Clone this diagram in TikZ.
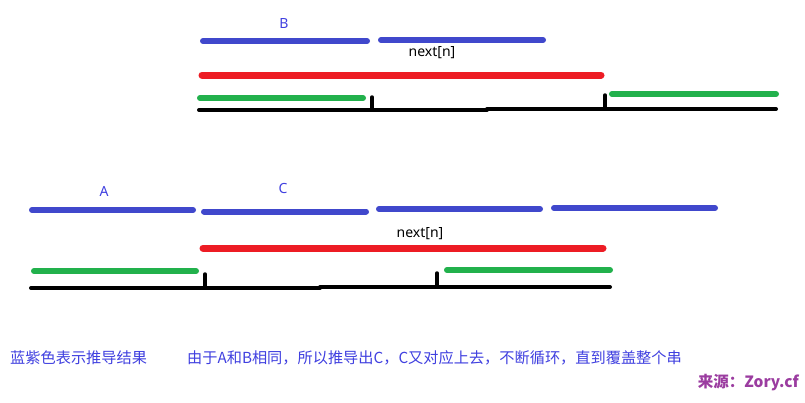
\documentclass[tikz,border=0pt]{standalone}
\usepackage{fontspec}
\setmainfont{Noto Sans CJK SC}
\newfontfamily\latinsans{Noto Sans}
\definecolor{segblue}{RGB}{64,72,204}
\definecolor{segred}{RGB}{237,28,36}
\definecolor{seggreen}{RGB}{34,177,76}
\definecolor{txtblue}{RGB}{64,64,224}
\definecolor{srcpurple}{RGB}{155,60,160}
\tikzset{
  bluebar/.style={segblue,line width=6pt,line cap=round},
  redbar/.style={segred,line width=7pt,line cap=round},
  greenbar/.style={seggreen,line width=6pt,line cap=round},
  baseline/.style={black,line width=4pt,line cap=round},
  tickmark/.style={black,line width=3.5pt,line cap=round},
  seglabel/.style={text=txtblue,font=\latinsans\fontsize{14}{16}\selectfont,inner sep=0pt},
  nextlabel/.style={text=black,font=\latinsans\fontsize{14}{16}\selectfont,inner sep=0pt},
  note/.style={text=txtblue,font=\fontsize{15.2}{18}\selectfont,inner sep=0pt,anchor=west},
}
\begin{document}
\begin{tikzpicture}[x=1pt,y=-1pt]
\useasboundingbox[fill=white] (0,0) rectangle (805,402);
% ---------- top ----------
\node[seglabel] (lblB) at (284,23) {B};
\draw[bluebar] (203,41) -- (367,41);
\draw[bluebar] (381,40) -- (543,40);
\node[nextlabel] (next1) at (432,53) {next[n]};
\draw[redbar] (202,75) -- (601,75);
\draw[greenbar] (200,98) -- (363,98);
\draw[greenbar] (612,94) -- (776,94);
\draw[baseline] (199,110) -- (487,110);
\draw[baseline] (487,109) -- (776,109);
\draw[tickmark] (372,97) -- (372,110);
\draw[tickmark] (605,95) -- (605,109);
% ---------- bottom ----------
\node[seglabel] (lblA) at (104,191) {A};
\node[seglabel] (lblC) at (283,188) {C};
\draw[bluebar] (32,210) -- (193,210);
\draw[bluebar] (204,211.5) -- (366,211.5);
\draw[bluebar] (379,209) -- (540,209);
\draw[bluebar] (554,208) -- (715,208);
\node[nextlabel] (next2) at (420,234) {next[n]};
\draw[redbar] (203,248) -- (603,248);
\draw[greenbar] (34,271) -- (196,271);
\draw[greenbar] (447,270) -- (610,270);
\draw[baseline] (31,288) -- (320,288);
\draw[baseline] (320,287) -- (610,287);
\draw[tickmark] (205,274) -- (205,287);
\draw[tickmark] (437,273) -- (437,286);
% ---------- notes ----------
\node[note] (note1) at (10,358) {蓝紫色表示推导结果};
\node[note] (note2) at (187,358) {由于A和B相同，所以推导出C，C又对应上去，不断循环，直到覆盖整个串};
\node[text=srcpurple,font=\bfseries\fontsize{15.5}{18}\selectfont,inner sep=0pt,anchor=east] (src) at (799,383) {来源：Zory.cf};
\end{tikzpicture}
\end{document}
